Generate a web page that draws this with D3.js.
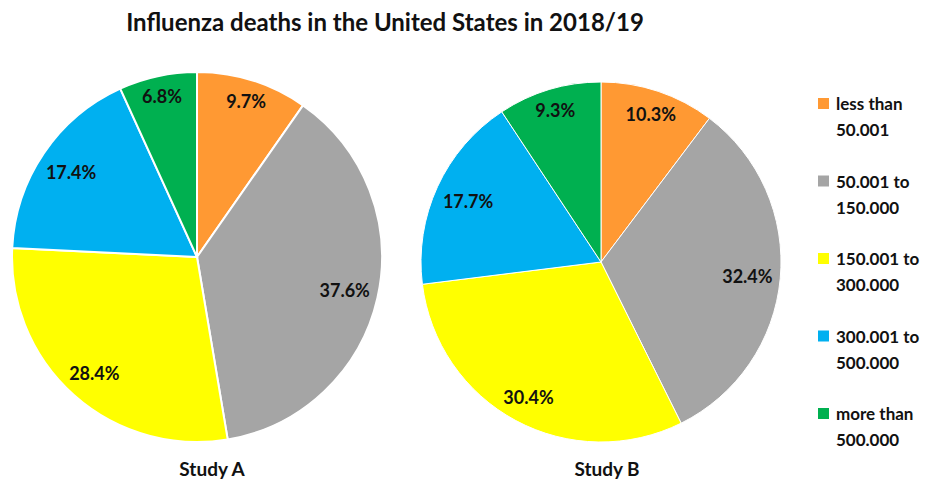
<!DOCTYPE html>
<html>
<head>
<meta charset="utf-8">
<script src="https://cdn.jsdelivr.net/npm/d3@7"></script>
<style>
  body { margin: 0; background: #fff; }
  text { font-family: Lato, "Open Sans", sans-serif; font-weight: bold; fill: #111; }
</style>
</head>
<body>
<div id="chart"></div>
<script>
// Data
var categories = ["less than 50.001", "50.001 to 150.000", "150.001 to 300.000", "300.001 to 500.000", "more than 500.000"];
var legendLines = [["less than", "50.001"], ["50.001 to", "150.000"], ["150.001 to", "300.000"], ["300.001 to", "500.000"], ["more than", "500.000"]];
var studyA = [9.7, 37.6, 28.4, 17.4, 6.8];
var studyB = [10.3, 32.4, 30.4, 17.7, 9.3];
var colors = ["#FF9933", "#A5A5A5", "#FFFF00", "#00B0F0", "#00B050"];

var svgWidth = 933;
var svgHeight = 480;

var svg = d3.select("#chart")
  .append("svg")
  .attr("width", svgWidth)
  .attr("height", svgHeight);

// Title
svg.append("text")
  .attr("x", 385)
  .attr("y", 31)
  .attr("text-anchor", "middle")
  .style("font-size", "24px")
  .text("Influenza deaths in the United States in 2018/19");

var color = d3.scaleOrdinal().domain(categories).range(colors);

var pie = d3.pie().sort(null).value(d => d.value);

function drawPie(values, cx, cy, r, strokeW, title, titleX) {
  var data = values.map((v, i) => ({ cat: categories[i], value: v }));
  var arcs = pie(data);
  var arc = d3.arc().innerRadius(0).outerRadius(r);

  var g = svg.append("g").attr("transform", `translate(${cx}, ${cy})`);

  g.selectAll("path")
    .data(arcs)
    .enter()
    .append("path")
    .attr("d", arc)
    .attr("fill", d => color(d.data.cat))
    .attr("stroke", "#fff")
    .attr("stroke-width", strokeW);

  // labels sit "inside end", like Excel does it
  g.selectAll("text.lbl")
    .data(arcs)
    .enter()
    .append("text")
    .attr("class", "lbl")
    .attr("text-anchor", "middle")
    .attr("dominant-baseline", "central")
    .style("font-size", "18px")
    .text(d => d.data.value.toFixed(1) + "%")
    .each(function(d) {
      var bb = this.getBBox();
      var a = (d.startAngle + d.endAngle) / 2;
      var s = Math.sin(a), c = Math.cos(a);
      var ext = bb.width / 2 * Math.abs(s) + bb.height / 2 * 0.8 * Math.abs(c);
      var dist = r - 7 - ext;
      d3.select(this).attr("x", dist * s).attr("y", -dist * c);
    });

  svg.append("text")
    .attr("x", titleX)
    .attr("y", 476)
    .attr("text-anchor", "middle")
    .style("font-size", "19px")
    .text(title);
}

drawPie(studyA, 197, 257, 185, 2, "Study A", 212);
drawPie(studyB, 601, 262, 180, 1, "Study B", 607);

// Legend
var legend = svg.append("g")
  .attr("transform", "translate(818, 103)");

var item = legend.selectAll("g")
  .data(categories)
  .enter()
  .append("g")
  .attr("transform", (d, i) => `translate(0, ${i * 77.5})`);

item.append("rect")
  .attr("x", 0)
  .attr("y", -5)
  .attr("width", 11)
  .attr("height", 11)
  .attr("fill", d => color(d));

item.append("text")
  .attr("x", 18)
  .attr("y", 0)
  .attr("dominant-baseline", "central")
  .style("font-size", "17px")
  .selectAll("tspan")
  .data((d, i) => legendLines[i])
  .enter()
  .append("tspan")
  .attr("x", 18)
  .attr("dy", (d, j) => j === 0 ? 0 : 26)
  .text(d => d);
</script>
</body>
</html>
